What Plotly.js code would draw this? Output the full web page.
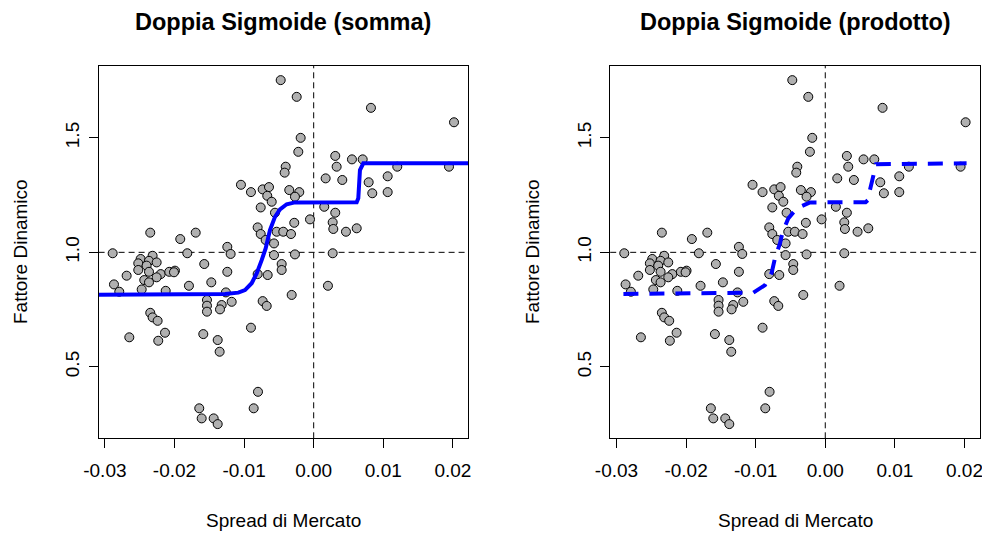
<!DOCTYPE html>
<html>
<head>
<meta charset="utf-8">
<script src="https://cdn.plot.ly/plotly-3.0.1.min.js"></script>
<style>html,body{margin:0;padding:0;background:#fff;}#chart{width:982px;height:534px;}</style>
</head>
<body>
<div id="chart"></div>
<script>
// Observed data: market spread vs dynamic factor
const spreadX = [-0.00474,-0.01045,-0.00901,-0.00733,-0.00642,-0.00667,-0.00603,-0.00761,-0.00556,-0.02348,
  -0.01917,-0.01695,-0.01241,-0.00805,-0.00761,-0.00532,-0.00437,-0.0069,-0.0057,-0.02888,
  -0.01816,-0.01193,-0.0057,-0.0046,-0.0046,-0.02314,-0.02486,-0.02366,-0.02256,-0.0252,
  -0.024,-0.01572,-0.02687,-0.0252,-0.02366,-0.02198,-0.02256,-0.02075,-0.01993,-0.02007,
  -0.01241,-0.00805,-0.00661,-0.02434,-0.02366,-0.02869,-0.02793,-0.02471,-0.02126,-0.01792,
  -0.01471,-0.01261,-0.01178,-0.01533,-0.01533,-0.01533,-0.01322,-0.01346,-0.00733,-0.00675,
  -0.02348,-0.02314,-0.02242,-0.02136,-0.02233,-0.02649,-0.01586,-0.01379,-0.01351,-0.00901,
  -0.008,-0.00862,-0.01644,-0.01609,-0.01437,-0.01379,-0.00244,0.00823,0.02016,-0.00187,
  -0.00221,-0.00402,-0.00417,0.0031,0.0033,0.0055,0.00704,0.01201,0.01944,0.00172,
  0.00411,0.0079,0.01063,0.00842,0.01063,-0.00351,-0.00207,-0.00269,0.00152,0.0031,
  0.00273,0.00282,0.00464,0.00618,-0.00053,-0.00279,-0.00326,0.00273,-0.00269,0.00205,-0.00316];
const factorY = [1.752,1.295,1.263,1.275,1.285,1.247,1.221,1.196,1.173,1.086,
  1.058,1.086,1.024,1.109,1.080,1.090,1.090,1.054,1.039,0.996,
  0.996,0.993,0.988,0.949,0.923,0.985,0.971,0.963,0.956,0.952,
  0.942,0.949,0.898,0.923,0.915,0.905,0.891,0.915,0.920,0.913,
  0.915,0.905,0.901,0.879,0.869,0.860,0.828,0.838,0.832,0.854,
  0.869,0.825,0.784,0.792,0.767,0.741,0.770,0.751,0.787,0.766,
  0.736,0.716,0.701,0.649,0.614,0.629,0.643,0.617,0.566,0.671,
  0.391,0.319,0.319,0.275,0.275,0.250,1.679,1.631,1.568,1.500,
  1.439,1.374,1.348,1.421,1.374,1.406,1.406,1.374,1.374,1.323,
  1.316,1.306,1.332,1.258,1.263,1.272,1.263,1.243,1.199,1.173,
  1.131,1.102,1.090,1.105,1.144,1.129,1.080,0.996,0.991,0.854,0.814];

// Fitted curve, sum model
const sommaX = [-0.0309,-0.0150,-0.01272,-0.01083,-0.00987,-0.00891,-0.00819,-0.00747,-0.0069,-0.00628,
  -0.00556,-0.00484,-0.00388,-0.00269,0.0,0.00618,0.00641,0.00665,0.00713,0.0222];
const sommaY = [0.815,0.815,0.818,0.824,0.835,0.865,0.908,0.966,1.017,1.097,
  1.155,1.188,1.210,1.218,1.219,1.219,1.236,1.359,1.389,1.389];

// Fitted curve, product model
const prodottoX = [-0.029,-0.0110,-0.01034,-0.00866,-0.0077,-0.00723,-0.00651,-0.00612,-0.00532,-0.00411,
  -0.0022,0.0058,0.0062,0.0064,0.0069,0.0073,0.0203];
const prodottoY = [0.818,0.820,0.824,0.857,0.911,0.974,1.039,1.090,1.148,1.192,
  1.218,1.219,1.230,1.270,1.330,1.385,1.389];

// Tick labels
const xTickVals = [-0.03,-0.02,-0.01,0.0,0.01,0.02];
const xTickText = ["-0.03","-0.02","-0.01","0.00","0.01","0.02"];
const yTickVals = [0.5,1.0,1.5];
const yTickText = ["0.5","1.0","1.5"];

const titles = ["Doppia Sigmoide (somma)","Doppia Sigmoide (prodotto)"];
const xLabel = "Spread di Mercato";
const yLabel = "Fattore Dinamico";

const FONT = "Liberation Sans, Arial, sans-serif";
const W = 982, H = 534;

const marker = {symbol:"circle", size:9, color:"#b0b0b0", line:{color:"#000", width:1}};

const traces = [
  {x: spreadX, y: factorY, type:"scatter", mode:"markers", marker: marker, xaxis:"x", yaxis:"y", hoverinfo:"skip"},
  {x: sommaX, y: sommaY, type:"scatter", mode:"lines", line:{color:"#0000ff", width:4}, xaxis:"x", yaxis:"y", hoverinfo:"skip"},
  {x: spreadX, y: factorY, type:"scatter", mode:"markers", marker: marker, xaxis:"x2", yaxis:"y2", hoverinfo:"skip"},
  {x: prodottoX, y: prodottoY, type:"scatter", mode:"lines", line:{color:"#0000ff", width:4, dash:"15px,11px"}, xaxis:"x2", yaxis:"y2", hoverinfo:"skip"}
];

const xRange = [-0.0309, 0.0222];
const yRange = [0.188, 1.815];
const yDom = [1 - 438.3/H, 1 - 65.7/H];

function xAx(dom, anchor) {
  return {domain: dom, range: xRange, anchor: anchor, tickmode:"array", tickvals: xTickVals, ticktext: xTickText,
    ticks:"outside", ticklen:9, tickwidth:1, tickcolor:"#000", showline:true, mirror:true, linecolor:"#000", linewidth:1,
    ticklabeloverflow:"allow", ticklabelstandoff:6,
    showgrid:false, zeroline:false, tickfont:{family:FONT, size:19, color:"#000"}, fixedrange:true};
}
function yAx(anchor) {
  return {domain: yDom, range: yRange, anchor: anchor, tickmode:"array", tickvals: yTickVals, ticktext: yTickText,
    tickangle:-90, ticks:"outside", ticklen:9, tickwidth:1, tickcolor:"#000", showline:true, mirror:true, linecolor:"#000", linewidth:1,
    ticklabelstandoff:2,
    showgrid:false, zeroline:false, tickfont:{family:FONT, size:19, color:"#000"}, fixedrange:true};
}

const refDash = {color:"#000", width:1, dash:"6px,4px"};
const shapes = [
  {type:"line", layer:"below", xref:"x", yref:"y domain", x0:0, x1:0, y0:0, y1:1, line:refDash},
  {type:"line", layer:"below", xref:"x domain", yref:"y", x0:0, x1:1, y0:1, y1:1, line:refDash},
  {type:"line", layer:"below", xref:"x2", yref:"y2 domain", x0:0, x1:0, y0:0, y1:1, line:refDash},
  {type:"line", layer:"below", xref:"x2 domain", yref:"y2", x0:0, x1:1, y0:1, y1:1, line:refDash}
];

const cx1 = 283.4/W, cx2 = 795/W;
const ann = (x, y, text, extra) => Object.assign({xref:"paper", yref:"paper", x:x, y:y, text:text, showarrow:false,
  xanchor:"center", yanchor:"middle", font:{family:FONT, size:19, color:"#000"}}, extra || {});

const annotations = [
  ann(cx1, 1 - 22/H, titles[0], {font:{family:FONT, size:23.5, color:"#000", weight:"bold"}}),
  ann(cx2, 1 - 22/H, titles[1], {font:{family:FONT, size:23.5, color:"#000", weight:"bold"}}),
  ann(cx1, 1 - 520/H, xLabel),
  ann(cx2, 1 - 520/H, xLabel),
  ann(20/W, 1 - 252/H, yLabel, {textangle:-90}),
  ann(532/W, 1 - 252/H, yLabel, {textangle:-90})
];

const layout = {
  width: W, height: H, margin:{l:0, r:0, t:0, b:0}, showlegend:false,
  paper_bgcolor:"#fff", plot_bgcolor:"#fff",
  xaxis: xAx([98.6/W, 468.2/W], "y"),
  yaxis: yAx("x"),
  xaxis2: xAx([610.2/W, 979.8/W], "y2"),
  yaxis2: yAx("x2"),
  shapes: shapes,
  annotations: annotations
};

Plotly.newPlot("chart", traces, layout, {staticPlot:true, displayModeBar:false});
</script>
</body>
</html>
